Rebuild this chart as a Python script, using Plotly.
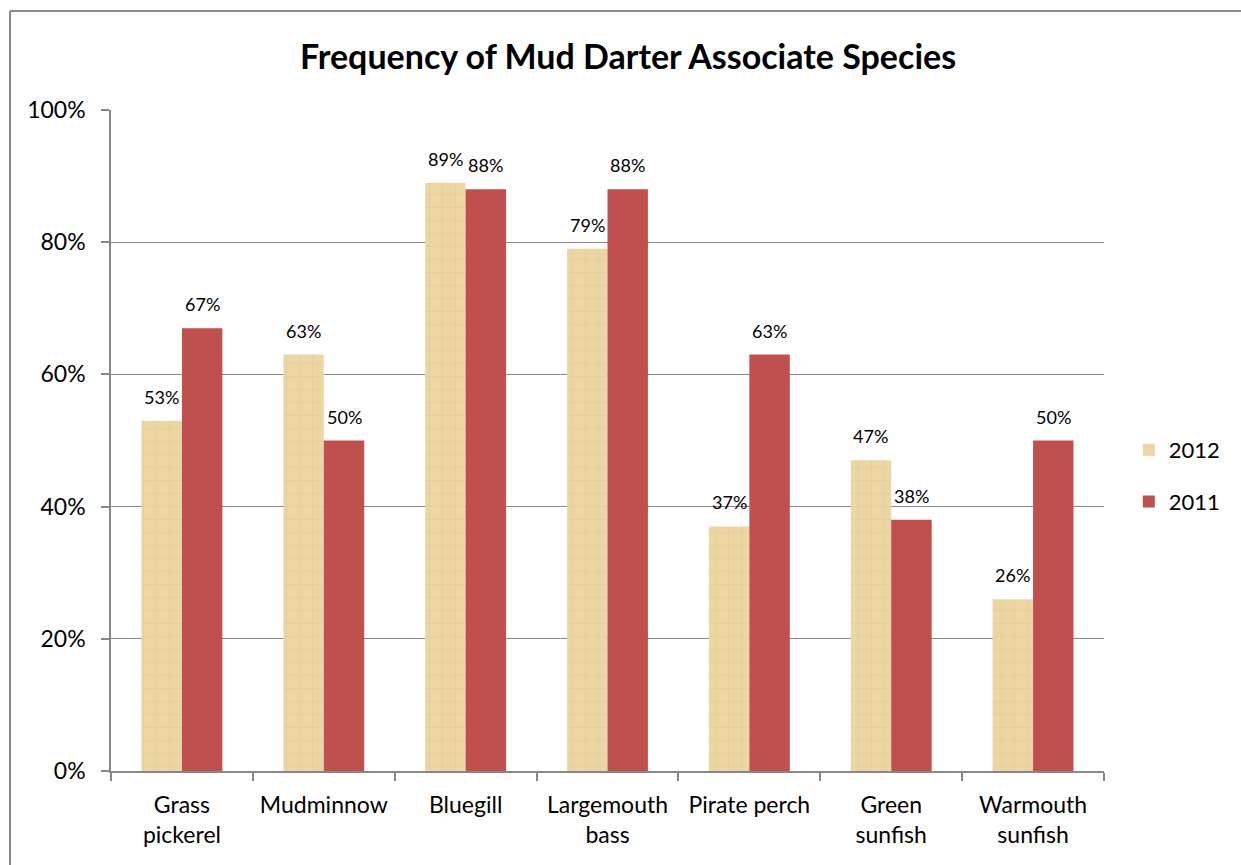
import plotly.graph_objects as go

# Species observed together with the mud darter
species = ["Grass<br>pickerel", "Mudminnow", "Bluegill", "Largemouth<br>bass",
           "Pirate perch", "Green<br>sunfish", "Warmouth<br>sunfish"]
freq_2012 = [0.53, 0.63, 0.89, 0.79, 0.37, 0.47, 0.26]
freq_2011 = [0.67, 0.50, 0.88, 0.88, 0.63, 0.38, 0.50]
y_ticks = [0, 0.2, 0.4, 0.6, 0.8, 1.0]
y_tick_labels = ["0%", "20%", "40%", "60%", "80%", "100%"]

FONT = "Lato, 'Open Sans', sans-serif"
GRID = "#878787"
PLOT_W = 993          # plot area width in px
BAR_SHIFT = PLOT_W / len(species) * 0.57 / 4  # half of one bar width

fig = go.Figure()
fig.add_trace(go.Bar(
    name="2012", x=species, y=freq_2012,
    marker=dict(color="#ECD6A4",
                line=dict(width=0),
                pattern=dict(shape="+", size=13, solidity=0.1,
                             fgcolor="#CDB07A", fgopacity=0.3,
                             fillmode="overlay")),
    legendgroup="a",
))
fig.add_trace(go.Bar(
    name="2011", x=species, y=freq_2011,
    marker=dict(color="#C0504D", line=dict(width=0)),
    legendgroup="b",
))

# Percentage labels above each bar
for vals, shift in ((freq_2012, -BAR_SHIFT), (freq_2011, BAR_SHIFT)):
    for cat, v in zip(species, vals):
        fig.add_annotation(x=cat, y=v, text=f"{v:.0%}", showarrow=False,
                           xshift=shift, yshift=24, yanchor="middle",
                           font=dict(size=18, family=FONT, color="#000000"))

# Outer chart frame (left and top edges)
fig.add_shape(type="line", xref="paper", yref="paper",
              x0=(10 - 111) / 993, x1=1.2, y0=(771 - 11) / 661, y1=(771 - 11) / 661,
              line=dict(color="#8C8C8C", width=2))
fig.add_shape(type="line", xref="paper", yref="paper",
              x0=(10 - 111) / 993, x1=(10 - 111) / 993, y0=(771 - 11) / 661, y1=-0.2,
              line=dict(color="#8C8C8C", width=2))

fig.update_layout(
    width=1241, height=865,
    margin=dict(l=111, r=137, t=110, b=94),
    paper_bgcolor="white", plot_bgcolor="white",
    font=dict(family=FONT, color="#000000", size=23),
    title=dict(text="<b>Frequency of Mud Darter Associate Species</b>",
               x=628 / 1241, xanchor="center", y=1 - 57 / 865, yanchor="middle",
               font=dict(size=34, family=FONT, color="#000000")),
    barmode="group", bargap=0.43, bargroupgap=0,
    legend=dict(x=1.025, y=(771 - 476) / 661, xanchor="left", yanchor="middle",
                traceorder="grouped", tracegroupgap=20,
                font=dict(size=22, family=FONT), itemwidth=30),
    showlegend=True,
)
fig.update_yaxes(range=[0, 1], tickvals=y_ticks, ticktext=y_tick_labels,
                 showgrid=True, gridcolor=GRID, gridwidth=1.3,
                 showline=True, linecolor=GRID, linewidth=1.5,
                 ticks="outside", ticklen=8, tickcolor=GRID, tickwidth=1.5,
                 ticklabelstandoff=11, automargin=False,
                 tickfont=dict(size=23, family=FONT), zeroline=False)
fig.update_xaxes(showline=True, linecolor=GRID, linewidth=1.5,
                 ticks="outside", tickson="boundaries", ticklen=8,
                 tickcolor=GRID, tickwidth=1.5, ticklabelstandoff=13,
                 tickangle=0, automargin=False,
                 tickfont=dict(size=23, family=FONT))

fig.write_html("out.html")
